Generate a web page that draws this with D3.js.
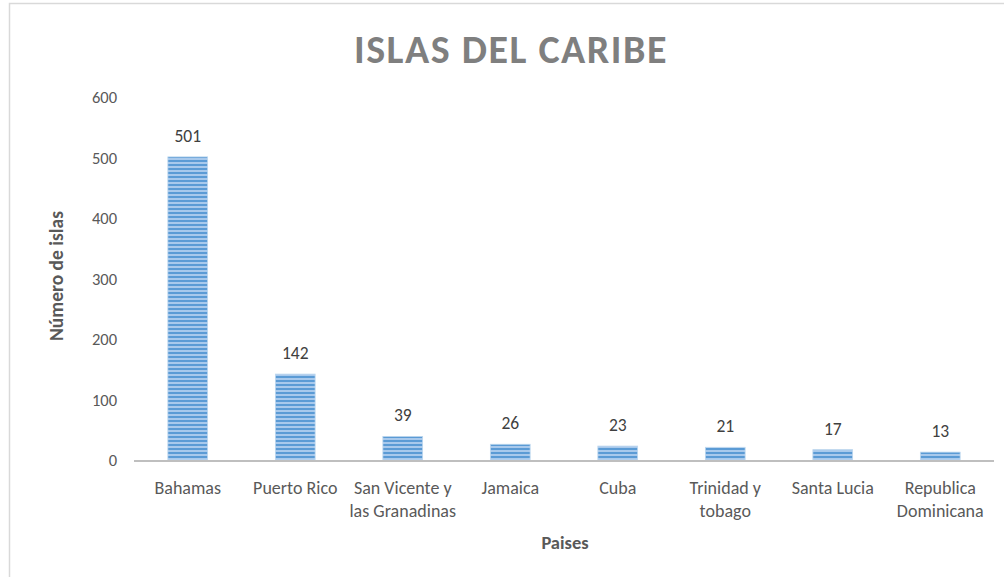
<!DOCTYPE html>
<html lang="es">
<head>
  <meta charset="UTF-8">
  <title>Islas del Caribe</title>
  <script src="https://cdnjs.cloudflare.com/ajax/libs/d3/7.8.5/d3.min.js"></script>
  <style>
    body { margin: 0; background: #fff; }
    text { font-family: Carlito, "Open Sans", sans-serif; fill: #595959; }
    .axis-title { font-weight: bold; }
    .title { font-size: 40px; font-weight: 600; fill: #7f7f7f; letter-spacing: 1.5px; }
    .val { font-size: 17.5px; fill: #404040; }
  </style>
</head>
<body>
  <svg width="1004" height="577"></svg>
  <script>
    // datos
    var paises = ['Bahamas', 'Puerto Rico', 'San Vicente y\nlas Granadinas', 'Jamaica',
                  'Cuba', 'Trinidad y\ntobago', 'Santa Lucia', 'Republica\nDominicana']
    var islas = [501, 142, 39, 26, 23, 21, 17, 13]
    var yTicks = [0, 100, 200, 300, 400, 500, 600]

    var svg = d3.select('svg')

    // marco del grafico
    svg.append('rect')
       .attr('x', 9.5).attr('y', 3.5)
       .attr('width', 1010).attr('height', 600)
       .attr('fill', 'none')
       .attr('stroke', '#d9d9d9')
       .attr('stroke-width', 1.5)

    // relleno a rayas
    var defs = svg.append('defs')
    var pat = defs.append('pattern')
       .attr('id', 'rayas')
       .attr('patternUnits', 'userSpaceOnUse')
       .attr('width', 8).attr('height', 4)
    pat.append('rect').attr('width', 8).attr('height', 4).attr('fill', '#5b9bd5')
    pat.append('rect').attr('y', 2).attr('width', 8).attr('height', 2).attr('fill', '#a8c9ec')

    var x = d3.scaleBand()
       .domain(paises)
       .range([134, 994])
       .paddingInner(0.63)
       .paddingOuter(0.315)

    var y = d3.scaleLinear().domain([0, 600]).range([460, 97])

    svg.append('text')
       .attr('class', 'title')
       .attr('x', 511).attr('y', 63)
       .attr('text-anchor', 'middle')
       .text('ISLAS DEL CARIBE')

    // eje y (solo etiquetas)
    svg.append('g')
       .selectAll('text')
       .data(yTicks)
       .join('text')
       .attr('x', 117)
       .attr('y', d => y(d) + 6)
       .attr('text-anchor', 'end')
       .style('font-size', '16.5px')
       .text(d => d)

    // barras
    svg.append('g')
       .selectAll('rect')
       .data(islas)
       .join('rect')
       .attr('x', (d, i) => x(paises[i]))
       .attr('y', d => y(d))
       .attr('width', x.bandwidth())
       .attr('height', d => y(0) - y(d))
       .attr('fill', 'url(#rayas)')
       .attr('stroke', '#bdd7ee')
       .attr('stroke-width', 0.8)

    // etiquetas de valor
    svg.append('g')
       .selectAll('text')
       .data(islas)
       .join('text')
       .attr('class', 'val')
       .attr('x', (d, i) => x(paises[i]) + x.bandwidth() / 2)
       .attr('y', d => y(d) - 15)
       .attr('text-anchor', 'middle')
       .text(d => d)

    // linea base
    svg.append('line')
       .attr('x1', x.range()[0]).attr('x2', x.range()[1])
       .attr('y1', y(0) + 1).attr('y2', y(0) + 1)
       .attr('stroke', '#bfbfbf')
       .attr('stroke-width', 2)

    // categorias
    var cat = svg.append('g')
       .selectAll('text')
       .data(paises)
       .join('text')
       .attr('text-anchor', 'middle')
       .style('font-size', '18px')
       .attr('x', d => x(d) + x.bandwidth() / 2)
       .attr('y', 494)
    cat.selectAll('tspan')
       .data(d => d.split('\n'))
       .join('tspan')
       .attr('x', function () { return this.parentNode.getAttribute('x') })
       .attr('dy', (d, i) => i ? 23 : 0)
       .text(d => d)

    svg.append('text')
       .attr('class', 'axis-title')
       .attr('x', 565).attr('y', 549)
       .attr('text-anchor', 'middle')
       .style('font-size', '18.5px')
       .text('Paises')

    svg.append('text')
       .attr('class', 'axis-title')
       .attr('transform', 'translate(63, 276) rotate(-90)')
       .attr('text-anchor', 'middle')
       .style('font-size', '19.5px')
       .text('Número de islas')
  </script>
</body>
</html>
